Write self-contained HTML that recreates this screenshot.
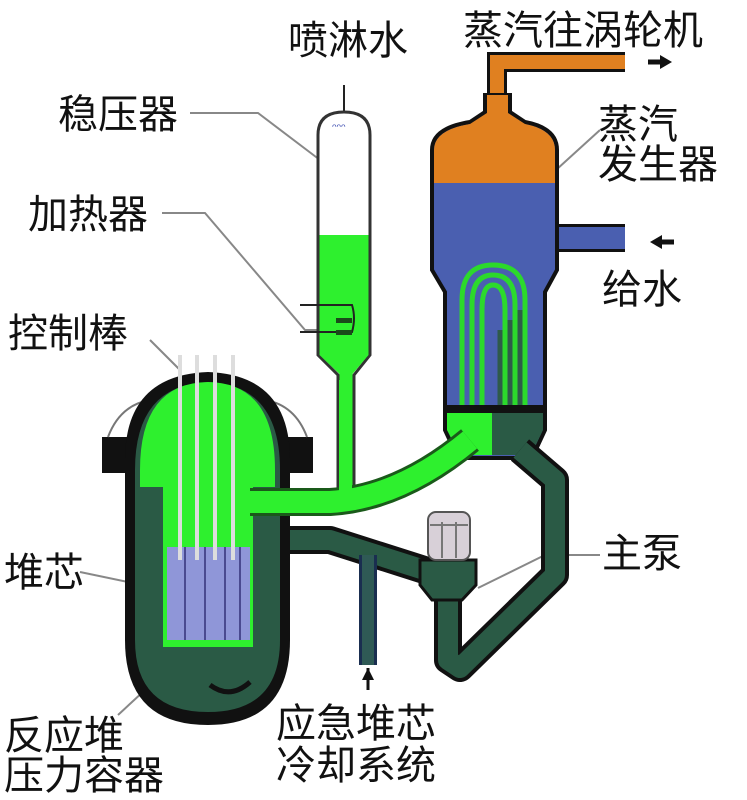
<!DOCTYPE html>
<html><head><meta charset="utf-8"><style>
body{margin:0;background:#fff}
svg{display:block}
text{font-family:"Liberation Sans","Noto Sans CJK SC",sans-serif;font-size:40px;fill:#111}
</style></head><body>
<svg width="747" height="800" viewBox="0 0 747 800">
<!-- leader lines -->
<g stroke="#888" stroke-width="2" fill="none">
<path d="M190 113 H258 L320 160"/>
<path d="M162 213 H205 L305 330 H330"/>
<path d="M150 340 L180 370"/>
<path d="M80 572 L128 582"/>
<path d="M118 715 L145 690"/>
<path d="M600 130 L556 170"/>
<path d="M600 555 H545 L478 588"/>
</g>
<line x1="344" y1="85" x2="344" y2="115" stroke="#222" stroke-width="2"/>
<!-- steam pipe -->
<path d="M497 125 V62 H625" stroke="#111" stroke-width="20" fill="none"/>
<path d="M497 125 V62 H625" stroke="#e08020" stroke-width="14" fill="none"/>
<!-- feed pipe -->
<rect x="540" y="224" width="85" height="28" fill="#111"/>
<rect x="540" y="227" width="85" height="22" fill="#4a5fb0"/>
<!-- SG body -->
<path d="M432 150 Q432 128 470 122 L485 112 V95 H510 V112 L525 122 Q557 128 557 150 V270 L545 292 V430 L532 458 H458 L445 430 V292 L432 270 Z" fill="#4a5fb0" stroke="#111" stroke-width="4"/>
<path d="M434 150 Q434 130 470 124 L487 113 V95 H508 V113 L525 124 Q555 130 555 150 V183 H434 Z" fill="#e08020"/>
<!-- U tubes -->
<g fill="none" stroke-width="5">
<path d="M462 410 V300 Q462 265 493 265 Q525 265 525 300 V410" stroke="#2cd92c"/>
<path d="M472 410 V305 Q472 275 493 275 Q515 275 515 305 V410" stroke="#2cd92c"/>
<path d="M482 410 V310 Q482 285 493 285 Q505 285 505 310 V410" stroke="#2cd92c"/>
<path d="M500 330 V410 M510 320 V410 M520 310 V410" stroke="#2f5a4a"/>
</g>
<rect x="446" y="405" width="98" height="8" fill="#111"/>
<path d="M447 413 H492 V455 H460 L447 430 Z" fill="#2ef02e"/>
<path d="M492 413 H543 V430 L531 455 H492 Z" fill="#2a5a45"/>
<!-- pressurizer -->
<path d="M318 135 Q318 112 344 112 Q370 112 370 135 V355 L354 375 V492 H338 V375 L318 355 Z" fill="#fff" stroke="#333" stroke-width="3"/>
<path d="M319.5 235 H368.5 V355 L352.5 374 V492 H339.5 V374 L319.5 355 Z" fill="#2ef02e"/>
<path d="M300 305 H352 Q356 318 352 332 H300" fill="none" stroke="#222" stroke-width="2"/>
<rect x="336" y="318" width="16" height="5" fill="#1a4a1a"/><rect x="336" y="330" width="16" height="5" fill="#1a4a1a"/>
<text x="332" y="132" style="font-size:12px;fill:#3a4ab0">ᵔᵔᵔ</text>
<!-- cold legs (dark green) -->
<g fill="none" stroke-linejoin="round">
<path d="M520 450 L555 480 V575 L460 668 L448 660 V585" stroke="#111" stroke-width="28"/>
<path d="M520 450 L555 480 V575 L460 668 L448 660 V585" stroke="#2a5a45" stroke-width="20"/>
<path d="M270 540 H330 L440 575" stroke="#111" stroke-width="28"/>
<path d="M270 540 H330 L440 575" stroke="#2a5a45" stroke-width="20"/>
<path d="M368 555 V665" stroke="#1a2e50" stroke-width="18"/>
<path d="M368 555 V665" stroke="#2f5a55" stroke-width="12"/>
</g>
<path d="M368 668 V690" stroke="#111" stroke-width="3"/><path d="M362 680 L368 668 L374 680Z" fill="#111"/>
<!-- pump -->
<path d="M420 560 H476 V585 L462 600 H432 L420 585 Z" fill="#2a5a45" stroke="#111" stroke-width="3"/>
<rect x="428" y="512" width="42" height="48" rx="8" fill="#d8d0d8" stroke="#555" stroke-width="2"/>
<path d="M442 522 V558 M456 522 V558 M430 525 H468" stroke="#777" stroke-width="2"/>
<!-- vessel -->
<path d="M102 437 H313 V473 H102 Z" fill="#111"/>
<path d="M108 437 Q120 405 150 400 M307 437 Q295 405 265 400" stroke="#777" stroke-width="2" fill="none"/>
<path d="M125 460 Q125 375 208 372 Q290 375 290 460 V640 Q290 725 208 725 Q125 725 125 640 Z" fill="#111"/>
<path d="M135 470 Q135 385 208 382 Q280 385 280 470 V640 Q280 712 208 712 Q135 712 135 640 Z" fill="#2a5a45"/>
<path d="M140 470 Q140 383 208 382 Q275 383 275 470 V487 H253 V647 H163 V487 H140 Z" fill="#2ef02e"/>
<rect x="167" y="547" width="83" height="93" fill="#8f96d8"/>
<g stroke="#4a4a90" stroke-width="2"><path d="M185 547V640 M205 547V640 M225 547V640 M240 547V640"/></g>
<path d="M210 685 Q230 700 250 682" stroke="#111" stroke-width="5" fill="none"/>
<g stroke="#ddd" stroke-width="4"><path d="M180 355V560 M197 355V560 M215 355V560 M233 355V560"/></g>
<!-- hot leg -->
<path d="M250 502 H330 Q400 498 470 440" stroke="#1a5a1a" stroke-width="28" fill="none"/>
<path d="M250 502 H330 Q400 498 470 440" stroke="#2ef02e" stroke-width="22" fill="none"/>
<rect x="339" y="380" width="13" height="115" fill="#2ef02e"/>
<!-- arrows -->
<path d="M648 62 H662" stroke="#111" stroke-width="5"/><path d="M660 55 L672 62 L660 69Z" fill="#111"/>
<path d="M660 242 H674" stroke="#111" stroke-width="5"/><path d="M662 235 L650 242 L662 249Z" fill="#111"/>
<!-- labels -->
<text x="463" y="44">蒸汽往涡轮机</text>
<text x="288" y="54">喷淋水</text>
<text x="58" y="128">稳压器</text>
<text x="598" y="138">蒸汽</text>
<text x="598" y="178">发生器</text>
<text x="28" y="228">加热器</text>
<text x="602" y="303">给水</text>
<text x="8" y="347">控制棒</text>
<text x="602" y="567">主泵</text>
<text x="4" y="586">堆芯</text>
<text x="4" y="749">反应堆</text>
<text x="4" y="789">压力容器</text>
<text x="276" y="737">应急堆芯</text>
<text x="276" y="779">冷却系统</text>
</svg>
</body></html>
